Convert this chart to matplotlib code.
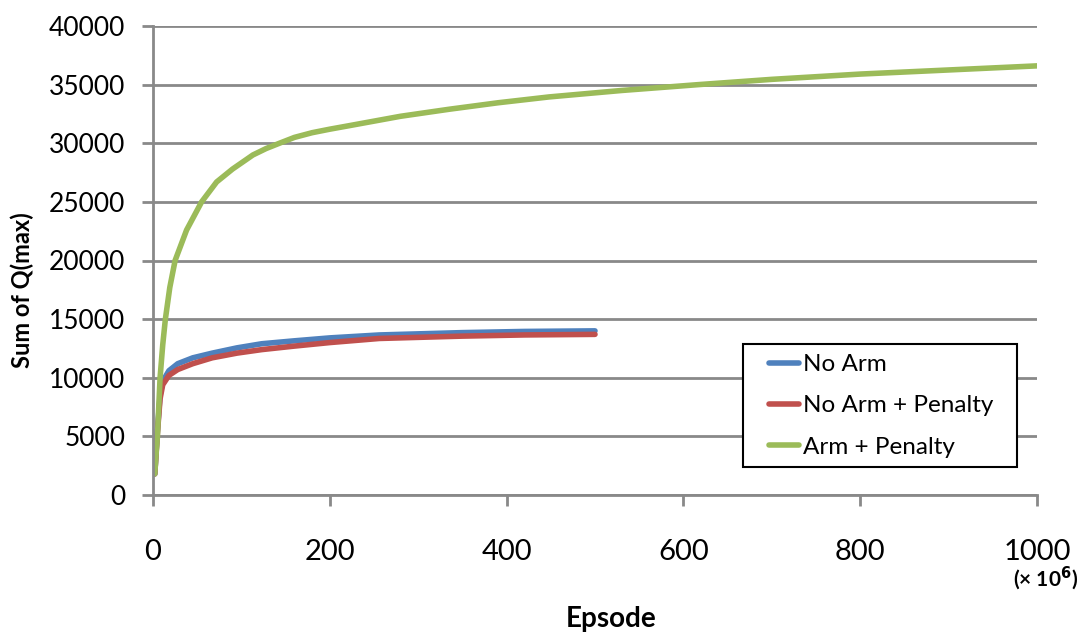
import matplotlib
matplotlib.use("Agg")
import matplotlib.pyplot as plt
from matplotlib.patches import Rectangle

plt.rcParams['font.family'] = ['Lato', 'DejaVu Sans']

# values (episodes in millions)
green_x = [2, 4, 5, 8, 11, 14, 19, 25, 38, 55, 72, 90, 113, 128, 143, 160, 180, 200,
           222, 280, 335, 390, 448, 530, 617, 700, 800, 900, 1000]
green_y = [1800, 4000, 5000, 10000, 12800, 15000, 17700, 20000, 22600, 25000, 26700,
           27800, 29000, 29550, 30000, 30500, 30900, 31200, 31500, 32300, 32900,
           33450, 33950, 34500, 35000, 35450, 35900, 36250, 36600]

blue_x = [2, 5, 8, 11, 18, 28, 45, 67, 95, 123, 160, 200, 256, 350, 420, 500]
blue_y = [1800, 5500, 8500, 9700, 10600, 11200, 11700, 12100, 12550, 12900,
          13150, 13400, 13650, 13850, 13950, 14000]

red_x = [2, 5, 8, 11, 18, 28, 45, 67, 95, 123, 160, 200, 256, 350, 420, 500]
red_y = [1800, 5300, 8200, 9400, 10200, 10700, 11200, 11700, 12100, 12400,
         12700, 13000, 13350, 13550, 13650, 13700]

labels = ["No Arm", "No Arm + Penalty", "Arm + Penalty"]
colors = ["#4F81BD", "#C0504D", "#9BBB59"]
grid_col = "#898989"

W, H = 1081, 636
fig = plt.figure(figsize=(W / 100, H / 100), dpi=100)
ax = fig.add_axes([153 / W, 1 - 495 / H, (1037 - 153) / W, (495 - 26) / H])

ax.plot(blue_x, blue_y, color=colors[0], lw=4, label=labels[0], solid_capstyle='round')
ax.plot(red_x, red_y, color=colors[1], lw=4, label=labels[1], solid_capstyle='round')
ax.plot(green_x, green_y, color=colors[2], lw=4, label=labels[2], solid_capstyle='round')

ax.set_xlim(0, 1000)
ax.set_ylim(0, 40000)
ax.set_xticks(range(0, 1001, 200))
ax.set_yticks(range(0, 40001, 5000))
ax.yaxis.grid(True, color=grid_col, lw=2)
ax.set_axisbelow(True)
for s in ['top', 'right']:
    ax.spines[s].set_visible(False)
for s in ['left', 'bottom']:
    ax.spines[s].set_color(grid_col)
    ax.spines[s].set_linewidth(2)
ax.tick_params(axis='x', colors=grid_col, length=8, width=2, pad=24, labelsize=21,
               labelcolor='black')
ax.tick_params(axis='y', colors=grid_col, length=8, width=2, pad=12, labelsize=19,
               labelcolor='black')

fig.text(22 / W, 1 - 290 / H, "Sum of Q(max)", rotation=90, ha='center', va='center',
         fontsize=17, fontweight='bold')
fig.text(611 / W, 1 - 619 / H, "Epsode", ha='center', va='center',
         fontsize=20, fontweight='bold')
fig.text(1046 / W, 1 - 578 / H, "(× 10$^{\\mathbf{6}}$)", ha='center', va='center',
         fontsize=15, fontweight='bold')

# legend box drawn separately so the padding matches the original
fig.patches.append(Rectangle((743 / W, 1 - 467 / H), (1017 - 743) / W, (467 - 344) / H,
                             transform=fig.transFigure, facecolor='white',
                             edgecolor='black', lw=1.5, zorder=4))
leg = ax.legend(loc='upper left', bbox_to_anchor=(769 / W, 1 - 354 / H),
                bbox_transform=fig.transFigure, fontsize=17.5, frameon=False,
                handlelength=1.23, handletextpad=0.15, borderpad=0, labelspacing=0.84,
                borderaxespad=0)
leg.set_zorder(5)
leg.remove()
fig.add_artist(leg)

fig.savefig("out.png", dpi=100)
